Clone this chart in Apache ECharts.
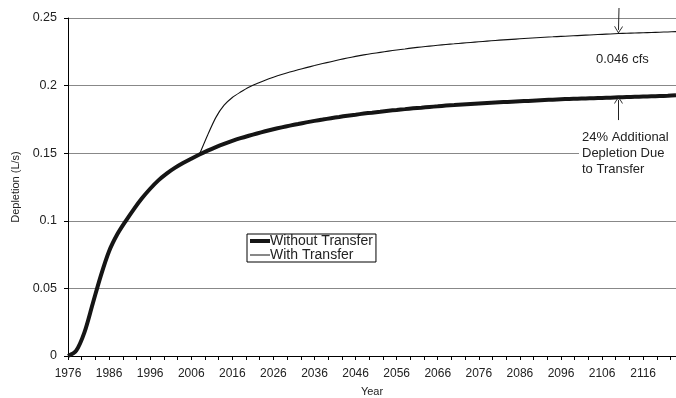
<!DOCTYPE html>
<html>
<head>
<meta charset="utf-8">
<script src="https://cdn.jsdelivr.net/npm/echarts@6/dist/echarts.min.js"></script>
<style>
  html, body { margin: 0; padding: 0; background: #fff; }
  #main { width: 676px; height: 398px; }
</style>
</head>
<body>
<div id="main"></div>
<script>
// depletion without transfer, every 2 years 1976..2124
var baseYears = [];
for (var y = 1976; y <= 2124; y += 2) baseYears.push(y);
var baseDepletion = [
  0, 0.004, 0.0175, 0.0385, 0.0595, 0.0775, 0.09, 0.0996, 0.1085, 0.1166,
  0.1237, 0.1299, 0.1349, 0.1391, 0.1427, 0.1459, 0.149, 0.1519, 0.1545, 0.1569,
  0.1591, 0.1611, 0.1629, 0.1646, 0.1662, 0.1677, 0.1691, 0.1704, 0.1716, 0.1728,
  0.1739, 0.1749, 0.1759, 0.1768, 0.1777, 0.1785, 0.1793, 0.18, 0.1807, 0.1814,
  0.182, 0.1826, 0.1832, 0.1837, 0.1842, 0.1847, 0.1852, 0.1856, 0.186, 0.1864,
  0.1868, 0.1872, 0.1875, 0.1878, 0.1881, 0.1884, 0.1887, 0.189, 0.1893, 0.1896,
  0.1899, 0.1901, 0.1903, 0.1905, 0.1907, 0.1909, 0.1911, 0.1913, 0.1915, 0.1917,
  0.1919, 0.1921, 0.1923, 0.1925, 0.1928
];

// depletion with transfer, every 2 years 2008..2124
var transferYears = [];
for (var t = 2008; t <= 2124; t += 2) transferYears.push(t);
var transferDepletion = [
  0.1492, 0.1635, 0.1765, 0.1855, 0.1912, 0.1952, 0.1988, 0.2015, 0.204, 0.2062,
  0.2082, 0.21, 0.2117, 0.2133, 0.2148, 0.2163, 0.2177, 0.2191, 0.2204, 0.2216,
  0.2227, 0.2237, 0.2246, 0.2255, 0.2263, 0.2271, 0.2279, 0.2286, 0.2292, 0.2298,
  0.2304, 0.2309, 0.2314, 0.2319, 0.2324, 0.2329, 0.2334, 0.2338, 0.2342, 0.2346,
  0.235, 0.2354, 0.2358, 0.2361, 0.2364, 0.2367, 0.237, 0.2373, 0.2376, 0.2379,
  0.2382, 0.2385, 0.2387, 0.2389, 0.2391, 0.2393, 0.2395, 0.2397, 0.2399
];

var seriesNames = ['Without Transfer', 'With Transfer'];
var arrowYear = 2110;

var FONT = '"Liberation Sans", Arial, Helvetica, sans-serif';
// open V arrowhead, tip pointing up
var chevron = 'path://M5,0 L10,10 L9,10 L5,2 L1,10 L0,10 Z';

function pairs(xs, ys) {
  var out = [];
  for (var i = 0; i < xs.length; i++) out.push([xs[i], ys[i]]);
  return out;
}

var chart = echarts.init(document.getElementById('main'), null, { renderer: 'canvas' });

chart.setOption({
  backgroundColor: '#fff',
  animation: false,
  textStyle: { fontFamily: FONT },
  grid: { left: 68, right: 0, top: 18, bottom: 42, containLabel: false, outerBoundsMode: 'none' },
  legend: {
    orient: 'vertical',
    left: 247,
    top: 234,
    data: [
      { name: seriesNames[0], lineStyle: { width: 4, color: '#151515' } },
      { name: seriesNames[1], lineStyle: { width: 1, color: '#111' } }
    ],
    backgroundColor: '#fff',
    borderColor: '#000',
    borderWidth: 1,
    borderRadius: 0,
    padding: [0, 3, 0, 1],
    itemGap: 0,
    itemWidth: 20,
    itemHeight: 12,
    selectedMode: false,
    itemStyle: { color: 'rgba(0,0,0,0)', borderWidth: 0, opacity: 0 },
    textStyle: { fontSize: 14, lineHeight: 14, color: '#222', fontFamily: FONT, padding: [0, 0, 0, -5] }
  },
  xAxis: {
    type: 'value',
    min: 1976,
    max: 2124,
    interval: 10,
    name: 'Year',
    nameLocation: 'middle',
    nameGap: 30,
    nameTextStyle: { fontSize: 11, color: '#222' },
    axisLine: { lineStyle: { color: '#000', width: 1 } },
    axisTick: { show: true, length: 4, lineStyle: { color: '#000' } },
    minorTick: { show: true, splitNumber: 3, length: 4, lineStyle: { color: '#000' } },
    axisLabel: {
      fontSize: 12, color: '#222', margin: 12, showMaxLabel: false,
      formatter: function (v) { return String(v); }
    },
    splitLine: { show: false }
  },
  yAxis: {
    type: 'value',
    min: 0,
    max: 0.25,
    interval: 0.05,
    name: 'Depletion (L/s)',
    nameLocation: 'middle',
    nameGap: 44,
    nameTextStyle: { fontSize: 11, color: '#222' },
    axisLine: { show: true, lineStyle: { color: '#000', width: 1 } },
    axisTick: { show: true, length: 4, lineStyle: { color: '#000' } },
    axisLabel: { fontSize: 12.5, color: '#222', margin: 11 },
    splitLine: { show: true, lineStyle: { color: '#888', width: 1 } }
  },
  series: [
    {
      name: seriesNames[0],
      type: 'line',
      data: pairs(baseYears, baseDepletion),
      smooth: 0.3,
      showSymbol: false,
      symbol: 'none',
      lineStyle: { color: '#151515', width: 4 },
      itemStyle: { color: '#151515' },
      z: 3,
      markLine: {
        silent: true,
        symbol: ['none', chevron],
        symbolSize: [9, 7],
        lineStyle: { color: '#222', width: 1, type: 'solid' },
        label: { show: false },
        data: [[{ coord: [arrowYear, 0.1745] }, { coord: [arrowYear, 0.1893] }]]
      }
    },
    {
      name: seriesNames[1],
      type: 'line',
      data: pairs(transferYears, transferDepletion),
      smooth: 0.25,
      showSymbol: false,
      symbol: 'none',
      lineStyle: { color: '#111', width: 1.1 },
      itemStyle: { color: '#111' },
      z: 4,
      markLine: {
        silent: true,
        symbol: ['none', chevron],
        symbolSize: [9, 7],
        lineStyle: { color: '#222', width: 1, type: 'solid' },
        label: { show: false },
        data: [[{ x: 619, y: 8 }, { coord: [arrowYear, 0.2412] }]]
      }
    }
  ],
  graphic: [
    {
      type: 'text',
      left: 596,
      top: 53,
      z: 10,
      style: { text: '0.046 cfs', fontSize: 13, fill: '#222', fontFamily: FONT }
    },
    {
      type: 'rect',
      left: 579,
      top: 129,
      z: 9,
      shape: { width: 97, height: 48 },
      style: { fill: '#fff' }
    },
    {
      type: 'text',
      left: 582,
      top: 129,
      z: 10,
      style: {
        text: '24% Additional\nDepletion Due\nto Transfer',
        fontSize: 13,
        lineHeight: 16,
        fill: '#222',
        fontFamily: FONT
      }
    }
  ]
});
</script>
</body>
</html>
